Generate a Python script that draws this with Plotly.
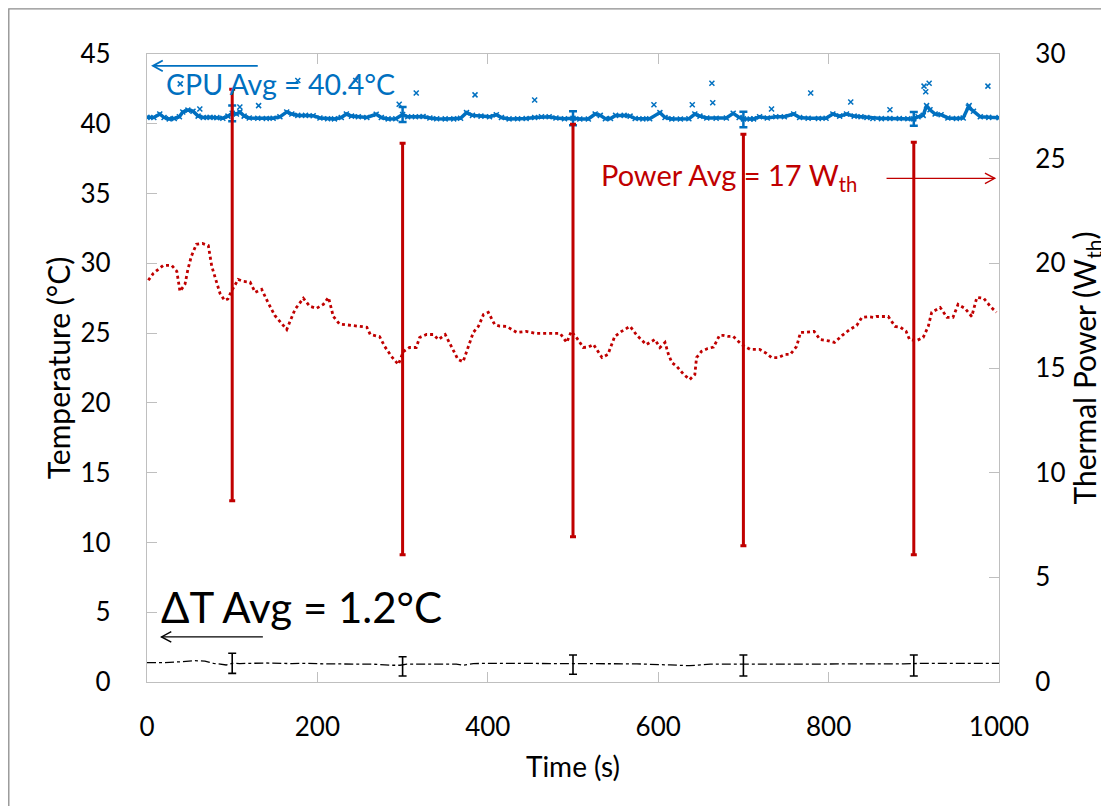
import plotly.graph_objects as go

# ---------------- data ----------------
# CPU temperature (left axis, °C)
cpu_t = [0, 8, 15, 20, 26, 32, 38, 42, 48, 54, 60, 66, 74, 82, 89, 95, 100, 105, 109, 114,
         120, 130, 140, 148, 156, 164, 170, 177, 186, 195, 203, 212, 220, 228, 234, 240, 248,
         258, 269, 275, 283, 292, 300, 306, 315, 324, 332, 340, 350, 360, 368, 375, 382, 392,
         402, 410, 416, 425, 435, 445, 455, 463, 472, 480, 490, 500, 508, 518, 526, 532, 538,
         544, 550, 560, 567, 573, 582, 590, 602, 608, 616, 626, 636, 643, 649, 657, 668, 680,
         688, 695, 700, 708, 712, 719, 728, 738, 748, 759, 766, 776, 788, 797, 805, 813, 821,
         830, 838, 845, 852, 862, 872, 883, 893, 900, 905, 911, 915, 919, 925, 932, 940, 950,
         958, 964, 970, 978, 988, 1000]
cpu_T = [40.46, 40.45, 40.70, 40.45, 40.35, 40.38, 40.50, 40.85, 40.98, 40.90, 40.55, 40.45,
         40.46, 40.44, 40.40, 40.55, 40.75, 40.70, 40.85, 40.55, 40.42, 40.40, 40.38, 40.40,
         40.50, 40.85, 40.70, 40.60, 40.60, 40.58, 40.42, 40.36, 40.35, 40.45, 40.70, 40.55,
         40.50, 40.45, 40.68, 40.45, 40.35, 40.36, 40.66, 40.50, 40.50, 40.52, 40.42, 40.36,
         40.35, 40.35, 40.40, 40.80, 40.60, 40.55, 40.50, 40.65, 40.45, 40.35, 40.36, 40.38,
         40.45, 40.50, 40.50, 40.42, 40.36, 40.40, 40.34, 40.34, 40.70, 40.60, 40.36, 40.38,
         40.60, 40.60, 40.55, 40.38, 40.35, 40.36, 40.80, 40.45, 40.35, 40.34, 40.36, 40.70,
         40.55, 40.42, 40.40, 40.42, 40.75, 40.45, 40.35, 40.34, 40.35, 40.50, 40.42, 40.50,
         40.50, 40.70, 40.45, 40.40, 40.38, 40.40, 40.70, 40.55, 40.70, 40.55, 40.50, 40.45,
         40.38, 40.37, 40.38, 40.38, 40.36, 40.35, 40.50, 40.60, 41.30, 41.00, 40.70, 40.65,
         40.42, 40.38, 40.42, 41.20, 40.90, 40.50, 40.46, 40.44]
cpu_out_t = [39, 62, 109, 131, 177, 245, 296, 316, 385, 455, 595, 640, 663, 664, 733, 779,
             826, 872, 912, 914, 918, 965, 987]
cpu_out_T = [42.86, 41.06, 41.20, 41.30, 43.10, 43.10, 41.40, 42.20, 42.07, 41.70, 41.37,
             41.37, 42.90, 41.50, 41.06, 42.20, 41.56, 41.00, 42.70, 42.30, 42.90, 41.30, 42.70]
cpu_err_t = [100, 300, 500, 700, 900]
cpu_err_c = [40.75, 40.66, 40.40, 40.31, 40.35]
cpu_err_e = [0.56, 0.54, 0.50, 0.56, 0.50]

# Thermal power (right axis, W_th)
pow_t = [1.6, 7.4, 19, 29, 35, 38.7, 44.6, 48, 52, 58, 65, 72, 76, 80, 85.7, 91, 95, 99, 107,
         113, 121, 127, 134.6, 142, 150, 164, 173.7, 183.5, 191, 199, 207, 213, 218.7, 226, 238,
         250, 258, 262, 273, 279, 287, 295, 301, 308, 316, 320, 328, 336, 342, 350, 357.5, 365,
         371, 377, 383, 389, 395, 400.6, 408, 414, 422, 434, 445, 457, 461, 473, 485, 492.6, 498,
         505, 512, 518, 524, 534, 541, 549, 557, 567, 575, 586, 596, 602, 608, 612, 616, 622,
         630, 637, 643, 645, 651, 658, 665, 672, 676, 682, 688, 698, 708, 719, 727, 733, 741,
         749, 755, 762.5, 767, 772, 783, 790, 800, 807, 816, 825, 833, 839, 846, 853, 856, 863,
         870, 878, 884, 891, 895, 903, 911, 917, 921, 931, 939, 946, 952, 960, 968, 974, 982,
         991, 997]
pow_W = [19.19, 19.52, 19.90, 19.90, 19.62, 18.66, 19.00, 19.71, 20.33, 20.91, 20.95, 20.85,
         19.86, 19.33, 18.56, 18.23, 18.30, 18.66, 19.23, 19.14, 19.10, 18.61, 18.76, 18.13,
         17.51, 16.84, 17.80, 18.33, 17.95, 17.85, 18.04, 18.37, 17.46, 17.10, 17.05, 16.99,
         16.95, 16.60, 16.50, 16.03, 15.55, 15.17, 15.79, 15.98, 15.98, 16.46, 16.60, 16.60,
         16.36, 16.60, 16.03, 15.41, 15.30, 16.03, 16.70, 16.99, 17.56, 17.66, 17.08, 17.00,
         16.99, 16.70, 16.75, 16.65, 16.65, 16.65, 16.65, 16.22, 16.75, 16.40, 15.98, 16.00,
         16.12, 15.50, 15.65, 16.51, 16.75, 16.99, 16.56, 16.12, 16.36, 15.98, 16.22, 15.65,
         15.26, 15.07, 14.69, 14.45, 14.69, 15.50, 15.80, 15.93, 16.00, 16.56, 16.56, 16.51,
         16.51, 16.12, 15.89, 15.89, 15.70, 15.50, 15.50, 15.65, 15.65, 16.03, 16.70, 16.70,
         16.75, 16.36, 16.30, 16.22, 16.56, 16.84, 17.03, 17.42, 17.45, 17.42, 17.46, 17.46,
         17.46, 16.99, 16.95, 16.75, 16.36, 16.30, 16.46, 16.99, 17.66, 17.89, 17.42, 17.42,
         18.04, 17.85, 17.46, 18.37, 18.33, 17.89, 17.66]
pow_err_t = [100, 300, 500, 700, 900]
pow_err_c = [18.49, 15.91, 16.79, 16.34, 15.93]
pow_err_e = [9.83, 9.83, 9.85, 9.83, 9.85]

# Delta T (left axis, °C)
dt_t = [0, 20, 40, 55, 68, 78, 93, 100, 109, 140, 170, 187, 207, 240, 265, 285, 297, 305,
        335, 363, 371, 383, 405, 422, 442, 470, 497, 520, 575, 614, 637, 661, 692, 720, 770,
        790, 840, 888, 911, 950, 1000]
dt_T = [1.39, 1.39, 1.45, 1.53, 1.50, 1.34, 1.22, 1.34, 1.32, 1.36, 1.32, 1.34, 1.30, 1.30,
        1.28, 1.20, 1.20, 1.28, 1.30, 1.28, 1.20, 1.32, 1.34, 1.34, 1.30, 1.30, 1.30, 1.30,
        1.30, 1.22, 1.17, 1.28, 1.30, 1.28, 1.28, 1.30, 1.30, 1.30, 1.34, 1.34, 1.34]
dt_err_t = [100, 300, 500, 700, 900]
dt_err_c = [1.34, 1.12, 1.24, 1.18, 1.18]
dt_err_e = [0.72, 0.69, 0.69, 0.75, 0.75]

x_ticks = [0, 200, 400, 600, 800, 1000]

# annotation arrows: (tail x, head x, y on left axis)
cpu_arrow = (130, 7, 44.15)
pow_arrow = (868, 995, 36.09)
dt_arrow = (136, 17, 3.23)

# ---------------- styles ----------------
BLUE = "#0070C0"
RED = "#C00000"
FONT = "Lato"
AXC = "#BFBFBF"

fig = go.Figure()

# power (right axis)
fig.add_trace(go.Scatter(x=pow_t, y=pow_W, yaxis="y2", mode="lines",
                         line=dict(color=RED, width=2.8, dash="dot"), showlegend=False))
fig.add_trace(go.Scatter(x=pow_err_t, y=pow_err_c, yaxis="y2", mode="markers",
                         marker=dict(size=1, color=RED, opacity=0), showlegend=False,
                         error_y=dict(type="data", array=pow_err_e, color=RED,
                                      thickness=3, width=3)))

# CPU
fig.add_trace(go.Scatter(x=cpu_t, y=cpu_T, mode="lines+markers",
                         line=dict(color=BLUE, width=3.5),
                         marker=dict(symbol="x-thin", size=5, color=BLUE,
                                     line=dict(color=BLUE, width=1.5)),
                         showlegend=False))
fig.add_trace(go.Scatter(x=cpu_out_t, y=cpu_out_T, mode="markers",
                         marker=dict(symbol="x-thin", size=5, color=BLUE,
                                     line=dict(color=BLUE, width=1.5)),
                         showlegend=False))
fig.add_trace(go.Scatter(x=cpu_err_t, y=cpu_err_c, mode="markers",
                         marker=dict(size=1, color=BLUE, opacity=0), showlegend=False,
                         error_y=dict(type="data", array=cpu_err_e, color=BLUE,
                                      thickness=2.5, width=4)))

# Delta T
fig.add_trace(go.Scatter(x=dt_t, y=dt_T, mode="lines",
                         line=dict(color="black", width=1.3, dash="dashdot"),
                         showlegend=False))
fig.add_trace(go.Scatter(x=dt_err_t, y=dt_err_c, mode="markers",
                         marker=dict(size=1, color="black", opacity=0), showlegend=False,
                         error_y=dict(type="data", array=dt_err_e, color="black",
                                      thickness=1.6, width=4)))

axis_common = dict(showgrid=False, zeroline=False, showline=True, linecolor=AXC,
                   linewidth=1.3, ticks="inside", ticklen=10, tickcolor=AXC, tickwidth=1.3,
                   tickfont=dict(family=FONT, size=26, color="black"))

# page body has an 8px margin: the figure is sized so the plot area lands where it should
fig.update_layout(
    width=1101, height=798,
    margin=dict(l=139, r=110, t=46, b=124, autoexpand=False),
    paper_bgcolor="white", plot_bgcolor="white",
    font=dict(family=FONT, color="black"),
    xaxis=dict(range=[0, 1000], tickvals=x_ticks, mirror="ticks",
               ticklabelstandoff=22,
               title=dict(text="Time (s)", standoff=16,
                          font=dict(family=FONT, size=28, color="black")),
               **axis_common),
    yaxis=dict(range=[0, 45], dtick=5, ticklabelstandoff=30,
               title=dict(text="Temperature (°C)", standoff=0,
                          font=dict(family=FONT, size=30, color="black")),
               **axis_common),
    yaxis2=dict(range=[0, 30], dtick=5, overlaying="y", side="right",
                ticklabelstandoff=30,
                title=dict(text="Thermal Power (W<sub>th</sub>)", standoff=0,
                           font=dict(family=FONT, size=30, color="black")),
                **axis_common),
)

# in-plot labels
fig.add_annotation(text="CPU Avg = 40.4°C", x=20, y=42.85, xanchor="left", yanchor="middle",
                   showarrow=False, font=dict(family=FONT, size=28.5, color=BLUE))
fig.add_annotation(text="Power Avg = 17 W<sub>th</sub>", x=531, y=36.2, xanchor="left",
                   yanchor="middle", showarrow=False,
                   font=dict(family=FONT, size=29, color=RED))
fig.add_annotation(text="ΔT Avg = 1.2°C", x=14, y=5.4, xanchor="left", yanchor="middle",
                   showarrow=False, font=dict(family=FONT, size=42, color="black"))

# arrows drawn as shapes (shaft + open head)
HX = 11.5   # head length in seconds (~10 px)
HY = 0.38   # head half-height in °C (~5 px)
for (tail, head, yv), col, w in [(cpu_arrow, BLUE, 1.8), (pow_arrow, RED, 1.4),
                                 (dt_arrow, "black", 1.4)]:
    d = 1 if tail > head else -1
    fig.add_shape(type="line", x0=tail, x1=head, y0=yv, y1=yv, xref="x", yref="y",
                  line=dict(color=col, width=w))
    fig.add_shape(type="path", xref="x", yref="y",
                  path=f"M{head + d * HX},{yv + HY} L{head},{yv} L{head + d * HX},{yv - HY}",
                  line=dict(color=col, width=w))

# outer chart frame
fig.add_shape(type="rect", xref="paper", yref="paper",
              x0=(8.8 - 147) / 852, x1=(1125 - 147) / 852,
              y0=(682 - 830) / 628, y1=(682 - 8.8) / 628,
              line=dict(color="#8C8C8C", width=1.3), fillcolor="rgba(0,0,0,0)",
              layer="below")

fig.write_html("out.html")
